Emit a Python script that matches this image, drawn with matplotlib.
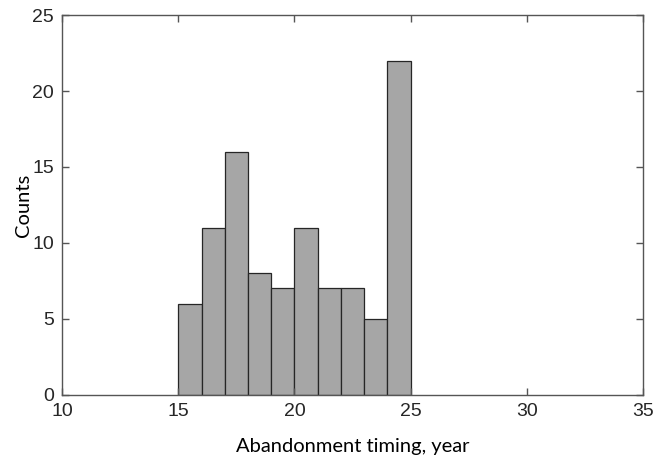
import matplotlib
matplotlib.use("Agg")
import matplotlib.pyplot as plt
import numpy as np

# histogram bins (year) and counts
bin_edges = [15, 16, 17, 18, 19, 20, 21, 22, 23, 24, 25]
counts = [6, 11, 16, 8, 7, 11, 7, 7, 5, 22]
xticks = [10, 15, 20, 25, 30, 35]
yticks = [0, 5, 10, 15, 20, 25]

fig = plt.figure(figsize=(6.54, 4.59), dpi=100)
ax = fig.add_axes([0.095, 0.14, 0.888, 0.827])

edges = np.asarray(bin_edges)
ax.bar(edges[:-1], counts, width=np.diff(edges), align="edge",
       color="#a6a6a6", edgecolor="#262626", linewidth=0.9)

ax.set_xlim(10, 35)
ax.set_ylim(0, 25)
ax.set_xticks(xticks)
ax.set_yticks(yticks)
for lab in ax.get_xticklabels() + ax.get_yticklabels():
    lab.set_family("Liberation Sans")
    lab.set_fontsize(14)
    lab.set_color("#262626")
ax.tick_params(direction="in", top=True, right=True, length=5,
               color="#555555", width=1.0, pad=6)
for s in ax.spines.values():
    s.set_color("#555555")
    s.set_linewidth(1.0)

ax.set_xlabel("Abandonment timing, year", fontsize=14.5, family="Lato", labelpad=13)
ax.set_ylabel("Counts", fontsize=14.5, family="Lato", labelpad=0)

fig.savefig("out.png", dpi=100)
